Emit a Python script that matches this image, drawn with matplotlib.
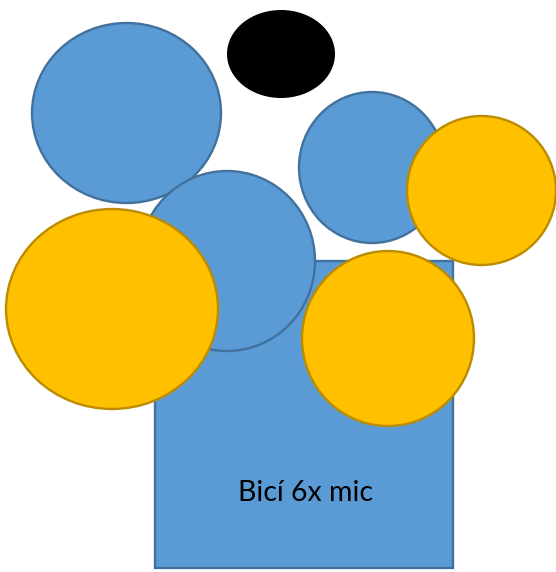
import matplotlib.pyplot as plt
from matplotlib.patches import Ellipse, Rectangle

# shapes in pixel coords (y grows downward)
blue_x = [126.5, 227, 372]
blue_y = [113, 261, 167.5]
blue_w = [189, 176, 146]
blue_h = [180, 180, 151]

yellow_x = [481.5, 112, 388]
yellow_y = [190.5, 309, 338.5]
yellow_w = [149, 212, 172]
yellow_h = [149, 200, 175]

black_x, black_y, black_w, black_h = 281, 54, 108, 88

box_left, box_top, box_right, box_bottom = 155, 261, 453, 568
box_label = "Bicí 6x mic"

blue_fill, blue_edge = '#5B9BD5', '#41719C'
yellow_fill, yellow_edge = '#FFC000', '#BC8C00'

fig = plt.figure(figsize=(5.56, 5.72), dpi=100)
ax = fig.add_axes([0, 0, 1, 1])
ax.set_xlim(0, 556)
ax.set_ylim(572, 0)
ax.axis('off')

ax.add_patch(Rectangle((box_left, box_top), box_right - box_left, box_bottom - box_top,
                       facecolor=blue_fill, edgecolor=blue_edge, lw=1.7))

for x, y, w, h in zip(blue_x, blue_y, blue_w, blue_h):
    ax.add_patch(Ellipse((x, y), w, h, facecolor=blue_fill, edgecolor=blue_edge, lw=1.7))

ax.add_patch(Ellipse((black_x, black_y), black_w, black_h, facecolor='black', edgecolor='none'))

for x, y, w, h in zip(yellow_x, yellow_y, yellow_w, yellow_h):
    ax.add_patch(Ellipse((x, y), w, h, facecolor=yellow_fill, edgecolor=yellow_edge, lw=1.7))

ax.text(305, 501, box_label, ha='center', va='baseline', fontsize=20.5,
        family=['Lato', 'DejaVu Sans'], color='black')

plt.savefig('out.png', dpi=100)
